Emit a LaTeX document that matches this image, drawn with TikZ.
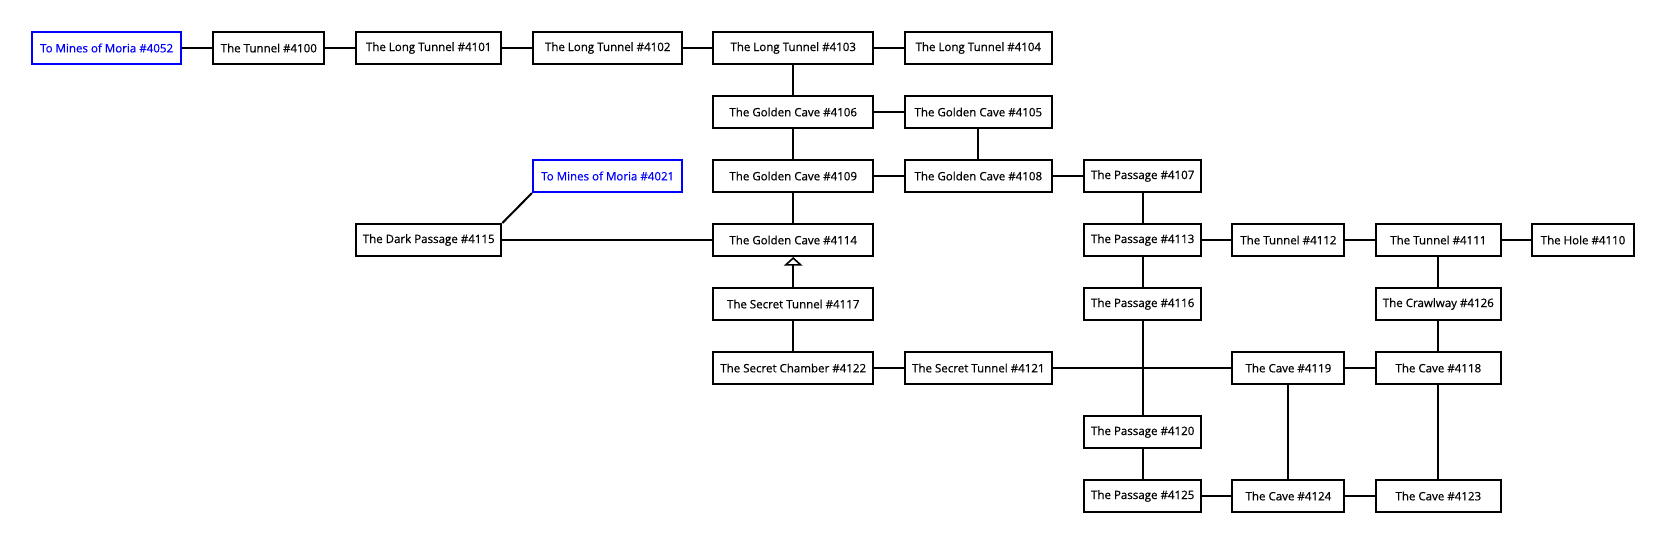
\documentclass[tikz,border=0pt]{standalone}
\usepackage{fontspec}
\setmainfont{Open Sans}[FakeBold=0.8]
\newfontfamily\roomfont{Open Sans}[FakeBold=0.6]
\usetikzlibrary{arrows.meta}
\definecolor{linkblue}{RGB}{0,0,255}
\tikzset{
  room/.style={draw=black, line width=1.5pt, rectangle, inner sep=0pt, minimum height=24pt, fill=white, font=\roomfont\fontsize{8.65pt}{10pt}\selectfont, text=black},
  exitroom/.style={room, draw=linkblue, text=linkblue},
  link/.style={draw=black, line width=1.5pt},
  cA/.style={minimum width=112.2pt}, cB/.style={minimum width=83.25pt},
  cC/.style={minimum width=109pt}, cD/.style={minimum width=112.1pt},
  cE/.style={minimum width=119.6pt}, cF/.style={minimum width=110.6pt},
  cG/.style={minimum width=88.1pt}, cH/.style={minimum width=83.9pt},
  cI/.style={minimum width=94pt}, cJ/.style={minimum width=76.1pt}
}
\begin{document}
\begin{tikzpicture}[x=0.75pt, y=-0.75pt]
\useasboundingbox (0,0) rectangle (1665,544);
% row 1
\node[exitroom,cA] (m4052) at (106.6,48) {To Mines of Moria \#4052};
\node[room,cB] (n4100) at (268.8,48) {The Tunnel \#4100};
\node[room,cC] (n4101) at (428.7,48) {The Long Tunnel \#4101};
\node[room,cD] (n4102) at (607.7,48) {The Long Tunnel \#4102};
\node[room,cE] (n4103) at (793.2,48) {The Long Tunnel \#4103};
\node[room,cF] (n4104) at (978.3,48) {The Long Tunnel \#4104};
% row 2
\node[room,cE] (n4106) at (793.2,112) {The Golden Cave \#4106};
\node[room,cF] (n4105) at (978.3,112) {The Golden Cave \#4105};
% row 3
\node[exitroom,cD] (m4021) at (607.7,176) {To Mines of Moria \#4021};
\node[room,cE] (n4109) at (793.2,176) {The Golden Cave \#4109};
\node[room,cF] (n4108) at (978.3,176) {The Golden Cave \#4108};
\node[room,cG] (n4107) at (1142.7,176) {The Passage \#4107};
% row 4
\node[room,cC] (n4115) at (428.7,240) {The Dark Passage \#4115};
\node[room,cE] (n4114) at (793.2,240) {The Golden Cave \#4114};
\node[room,cG] (n4113) at (1142.7,240) {The Passage \#4113};
\node[room,cH] (n4112) at (1288.4,240) {The Tunnel \#4112};
\node[room,cI] (n4111) at (1438.3,240) {The Tunnel \#4111};
\node[room,cJ] (n4110) at (1583,240) {The Hole \#4110};
% row 5
\node[room,cE] (n4117) at (793.2,304) {The Secret Tunnel \#4117};
\node[room,cG] (n4116) at (1142.7,304) {The Passage \#4116};
\node[room,cI] (n4126) at (1438.3,304) {The Crawlway \#4126};
% row 6
\node[room,cE] (n4122) at (793.2,368) {The Secret Chamber \#4122};
\node[room,cF] (n4121) at (978.3,368) {The Secret Tunnel \#4121};
\node[room,cH] (n4119) at (1288.4,368) {The Cave \#4119};
\node[room,cI] (n4118) at (1438.3,368) {The Cave \#4118};
% row 7
\node[room,cG] (n4120) at (1142.7,432) {The Passage \#4120};
% row 8
\node[room,cG] (n4125) at (1142.7,496) {The Passage \#4125};
\node[room,cH] (n4124) at (1288.4,496) {The Cave \#4124};
\node[room,cI] (n4123) at (1438.3,496) {The Cave \#4123};
% connectors
\draw[link] (m4052) -- (n4100);
\draw[link] (n4100) -- (n4101);
\draw[link] (n4101) -- (n4102);
\draw[link] (n4102) -- (n4103);
\draw[link] (n4103) -- (n4104);
\draw[link] (n4103) -- (n4106);
\draw[link] (n4106) -- (n4105);
\draw[link] (n4106) -- (n4109);
\draw[link] (n4105) -- (n4108);
\draw[link] (n4109) -- (n4108);
\draw[link] (n4108) -- (n4107);
\draw[link] (n4109) -- (n4114);
\draw[link] (n4107) -- (n4113);
\draw[link] (n4115.north east) -- (m4021.south west);
\draw[link] (n4115) -- (n4114);
\draw[link, -{Triangle[open, width=14pt, length=6.5pt, line width=1.2pt]}] (n4117) -- (n4114);
\draw[link] (n4113) -- (n4112);
\draw[link] (n4112) -- (n4111);
\draw[link] (n4111) -- (n4110);
\draw[link] (n4113) -- (n4116);
\draw[link] (n4111) -- (n4126);
\draw[link] (n4117) -- (n4122);
\draw[link] (n4122) -- (n4121);
\draw[link] (n4121) -- (n4119);
\draw[link] (n4116) -- (n4120);
\draw[link] (n4126) -- (n4118);
\draw[link] (n4119) -- (n4118);
\draw[link] (n4119) -- (n4124);
\draw[link] (n4118) -- (n4123);
\draw[link] (n4120) -- (n4125);
\draw[link] (n4125) -- (n4124);
\draw[link] (n4124) -- (n4123);
\end{tikzpicture}
\end{document}
